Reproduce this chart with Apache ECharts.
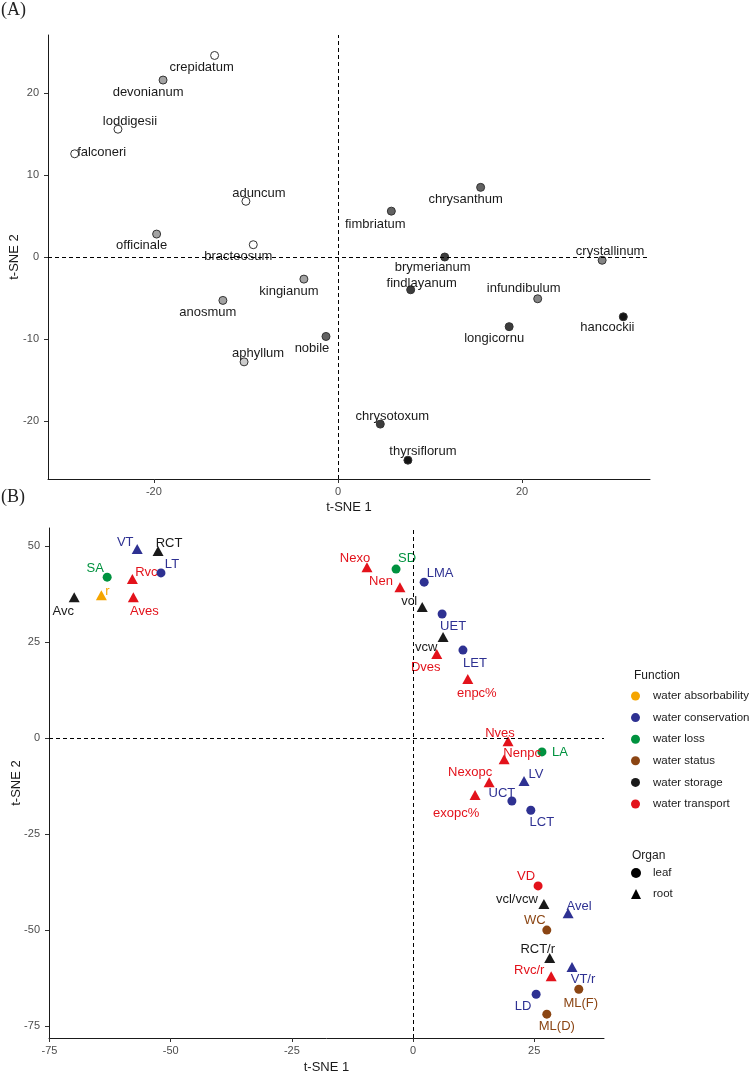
<!DOCTYPE html>
<html>
<head>
<meta charset="utf-8">
<script src="https://cdn.jsdelivr.net/npm/echarts@6/dist/echarts.min.js"></script>
<style>
  html, body { margin: 0; padding: 0; background: #fff; }
  #chart { width: 752px; height: 1077px; }
</style>
</head>
<body>
<div id="chart"></div>
<script>
// ---- panel A: species t-SNE ----
const speciesA = ['crepidatum', 'devonianum', 'loddigesii', 'falconeri', 'aduncum', 'officinale', 'bracteosum',
  'kingianum', 'anosmum', 'nobile', 'aphyllum', 'fimbriatum', 'chrysanthum', 'crystallinum', 'brymerianum',
  'findlayanum', 'infundibulum', 'hancockii', 'longicornu', 'chrysotoxum', 'thyrsiflorum'];
const tsne1A = [-13.4, -19.0, -23.9, -28.6, -10.0, -19.7, -9.2, -3.7, -12.5, -1.3, -10.2, 5.8, 15.5, 28.7, 11.6, 7.9, 21.7, 31.0, 18.6, 4.6, 7.6];
const tsne2A = [24.6, 21.6, 15.6, 12.6, 6.8, 2.8, 1.5, -2.7, -5.3, -9.7, -12.8, 5.6, 8.5, -0.4, 0.0, -4.0, -5.1, -7.3, -8.5, -20.4, -24.8];
const shadeA = [0, 2, 0, 0, 0, 2, 0, 2, 2, 4, 1, 4, 4, 3, 5, 5, 3, 6, 5, 5, 6];
const xTicksA = [-20, 0, 20];
const yTicksA = [-20, -10, 0, 10, 20];

// ---- panel B: traits t-SNE ----
const traitsB = ['VT', 'RCT', 'LT', 'SA', 'Rvc', 'r', 'Avc', 'Aves', 'Nexo', 'SD', 'Nen', 'LMA', 'vcl', 'UET', 'vcw',
  'Dves', 'LET', 'enpc%', 'Nves', 'Nenpc', 'LA', 'Nexopc', 'LV', 'exopc%', 'UCT', 'LCT', 'VD', 'vcl/vcw', 'Avel',
  'WC', 'RCT/r', 'VT/r', 'Rvc/r', 'ML(F)', 'LD', 'ML(D)'];
const tsne1B = [-56.9, -52.6, -52.0, -63.1, -57.9, -64.3, -69.9, -57.7, -9.5, -3.5, -2.7, 2.3, 1.9, 6.0, 6.2,
  4.9, 10.3, 11.3, 19.6, 18.8, 26.6, 15.7, 22.9, 12.8, 20.4, 24.3, 25.8, 27.0, 32.0,
  27.6, 28.2, 32.8, 28.5, 34.2, 25.4, 27.6];
const tsne2B = [49.2, 48.7, 43.0, 41.9, 41.4, 37.2, 36.7, 36.7, 44.5, 44.0, 39.3, 40.6, 34.1, 32.3, 26.3,
  21.9, 22.9, 15.4, -0.8, -5.5, -3.6, -11.5, -11.2, -14.8, -16.4, -18.8, -38.5, -43.2, -45.6,
  -50.0, -57.3, -59.6, -62.0, -65.4, -66.7, -71.9];
const functionB = ['water conservation', 'water storage', 'water conservation', 'water loss', 'water transport',
  'water absorbability', 'water storage', 'water transport', 'water transport', 'water loss', 'water transport',
  'water conservation', 'water storage', 'water conservation', 'water storage', 'water transport',
  'water conservation', 'water transport', 'water transport', 'water transport', 'water loss', 'water transport',
  'water conservation', 'water transport', 'water conservation', 'water conservation', 'water transport',
  'water storage', 'water conservation', 'water status', 'water storage', 'water conservation', 'water transport',
  'water status', 'water conservation', 'water status'];
const organB = ['root', 'root', 'leaf', 'leaf', 'root', 'root', 'root', 'root', 'root', 'leaf', 'root', 'leaf', 'root',
  'leaf', 'root', 'root', 'leaf', 'root', 'root', 'root', 'leaf', 'root', 'root', 'root', 'leaf', 'leaf', 'leaf',
  'root', 'root', 'leaf', 'root', 'root', 'root', 'leaf', 'leaf', 'leaf'];
const functions = ['water absorbability', 'water conservation', 'water loss', 'water status', 'water storage', 'water transport'];
const organs = ['leaf', 'root'];
const xTicksB = [-75, -50, -25, 0, 25];
const yTicksB = [-75, -50, -25, 0, 25, 50];

// ---- styling ----
const greys = ['#ffffff', '#cccccc', '#a3a3a3', '#858585', '#626262', '#3c3c3c', '#141414'];
const fnColors = {
  'water absorbability': '#f5a500',
  'water conservation': '#2e3192',
  'water loss': '#00923f',
  'water status': '#8b4513',
  'water storage': '#1a1a1a',
  'water transport': '#e3121b'
};
// label placement relative to each point (px), ggrepel-like
const labelOffsetA = [[-13, 12], [-15, 12], [12, -8], [27, -1], [13, -8], [-15, 11], [-15, 12], [-15, 12], [-15, 12],
  [-14, 12], [14, -8], [-16, 13], [-15, 12], [8, -9], [-12, 10], [11, -6], [-14, -10], [-16, 11], [-15, 12],
  [12, -8], [15, -9]];
const labelOffsetB = [[-12, -7], [11, -8], [11, -9], [-12, -9], [14, -7], [6, -4], [-11, 14], [11, 14], [-12, -9],
  [11, -11], [-19, -6], [16, -9], [-13, -6], [11, 12], [-17, 10], [-11, 13], [12, 13], [9, 14], [-8, -8], [18, -6],
  [18, 1], [-19, -10], [12, -7], [-19, 19], [-10, -8], [11, 12], [-12, -9], [-27, -5], [11, -7], [-12, -10],
  [-12, -9], [11, 12], [-22, -6], [2, 14], [-13, 12], [10, 12]];

const FONT = '"Liberation Sans", Arial, sans-serif';
const tickColor = '#4d4d4d';

function axis(gridIndex, min, max, ticks, isY, name, nameGap) {
  return {
    type: 'value', gridIndex, min, max, name,
    nameLocation: 'middle', nameGap, nameMoveOverlap: false,
    nameTextStyle: { color: '#1a1a1a', fontSize: 13, fontFamily: FONT },
    splitLine: { show: false },
    axisLine: { show: true, onZero: false, lineStyle: { color: '#1a1a1a', width: 1 } },
    axisTick: { show: true, length: 4, customValues: ticks, lineStyle: { color: '#333' } },
    axisLabel: { customValues: ticks, color: tickColor, fontSize: 11, fontFamily: FONT, margin: isY ? 9 : 7 }
  };
}

const zeroLines = {
  silent: true,
  symbol: ['none', 'none'],
  label: { show: false },
  lineStyle: { color: '#000', type: [4, 3], width: 1, opacity: 1 },
  data: [{ xAxis: 0 }, { yAxis: 0 }]
};

const seriesA = {
  type: 'scatter', xAxisIndex: 0, yAxisIndex: 0, z: 3,
  symbolSize: 8,
  data: speciesA.map((s, i) => ({
    name: s,
    value: [tsne1A[i], tsne2A[i]],
    itemStyle: { color: greys[shadeA[i]], borderColor: '#333', borderWidth: 1, opacity: 1 },
    label: { offset: labelOffsetA[i] }
  })),
  label: {
    show: true, position: 'inside', formatter: '{b}',
    color: '#1a1a1a', fontSize: 13, fontFamily: FONT, opacity: 1
  },
  markLine: zeroLines
};

const seriesB = functions.map((f, k) => ({
  name: f, type: 'scatter', xAxisIndex: 1, yAxisIndex: 1, z: 3,
  itemStyle: { color: fnColors[f], opacity: 1 },
  data: traitsB.map((t, i) => ({ t, i })).filter(d => functionB[d.i] === f).map(({ t, i }) => ({
    name: t,
    value: [tsne1B[i], tsne2B[i]],
    symbol: organB[i] === 'leaf' ? 'circle' : 'triangle',
    symbolSize: organB[i] === 'leaf' ? 9 : [11, 10],
    label: { offset: labelOffsetB[i] }
  })),
  label: {
    show: true, position: 'inside', formatter: '{b}',
    color: fnColors[f], fontSize: 13, fontFamily: FONT, opacity: 1
  },
  markLine: k === 0 ? zeroLines : undefined
}));

const organSeries = organs.map(o => ({
  name: o, type: 'scatter', xAxisIndex: 1, yAxisIndex: 1, data: [],
  itemStyle: { color: '#000', opacity: 1 }
}));

const chart = echarts.init(document.getElementById('chart'));
chart.setOption({
  backgroundColor: '#fff',
  animation: false,
  title: [
    { text: '(A)', left: 1, top: 1, padding: 0, textStyle: { fontFamily: '"Liberation Serif", serif', fontSize: 18, fontWeight: 'normal', color: '#222' } },
    { text: '(B)', left: 1, top: 488, padding: 0, textStyle: { fontFamily: '"Liberation Serif", serif', fontSize: 18, fontWeight: 'normal', color: '#222' } },
    { text: 'Function', left: 634, top: 670, padding: 0, textStyle: { fontFamily: FONT, fontSize: 12, fontWeight: 'normal', color: '#1a1a1a' } },
    { text: 'Organ', left: 632, top: 850, padding: 0, textStyle: { fontFamily: FONT, fontSize: 12, fontWeight: 'normal', color: '#1a1a1a' } }
  ],
  grid: [
    { left: 48, top: 35, width: 602, height: 444, containLabel: false, outerBoundsMode: 'none' },
    { left: 49, top: 528, width: 555, height: 510, containLabel: false, outerBoundsMode: 'none' }
  ],
  xAxis: [
    axis(0, -31.5, 33.9, xTicksA, false, 't-SNE 1', 22),
    axis(1, -75.1, 39.4, xTicksB, false, 't-SNE 1', 23)
  ],
  yAxis: [
    axis(0, -27.1, 27.1, yTicksA, true, 't-SNE 2', 27),
    axis(1, -78.1, 54.7, yTicksB, true, 't-SNE 2', 26)
  ],
  legend: [
    {
      data: functions, orient: 'vertical', left: 631, top: 690, padding: 0,
      icon: 'circle', itemWidth: 9, itemHeight: 9, itemGap: 9.6,
      itemStyle: { borderWidth: 0, opacity: 1 },
      selectedMode: false,
      textStyle: { fontFamily: FONT, fontSize: 11.5, color: '#1a1a1a', padding: [0, 0, 0, 8] }
    },
    {
      data: [{ name: 'leaf', icon: 'circle' }, { name: 'root', icon: 'triangle' }],
      orient: 'vertical', left: 631, top: 867, padding: 0,
      itemWidth: 10, itemHeight: 10, itemGap: 9,
      itemStyle: { opacity: 1 },
      selectedMode: false,
      textStyle: { fontFamily: FONT, fontSize: 11.5, color: '#1a1a1a', padding: [0, 0, 0, 7] }
    }
  ],
  series: [seriesA, ...seriesB, ...organSeries]
});
window.addEventListener('resize', () => chart.resize());
</script>
</body>
</html>
